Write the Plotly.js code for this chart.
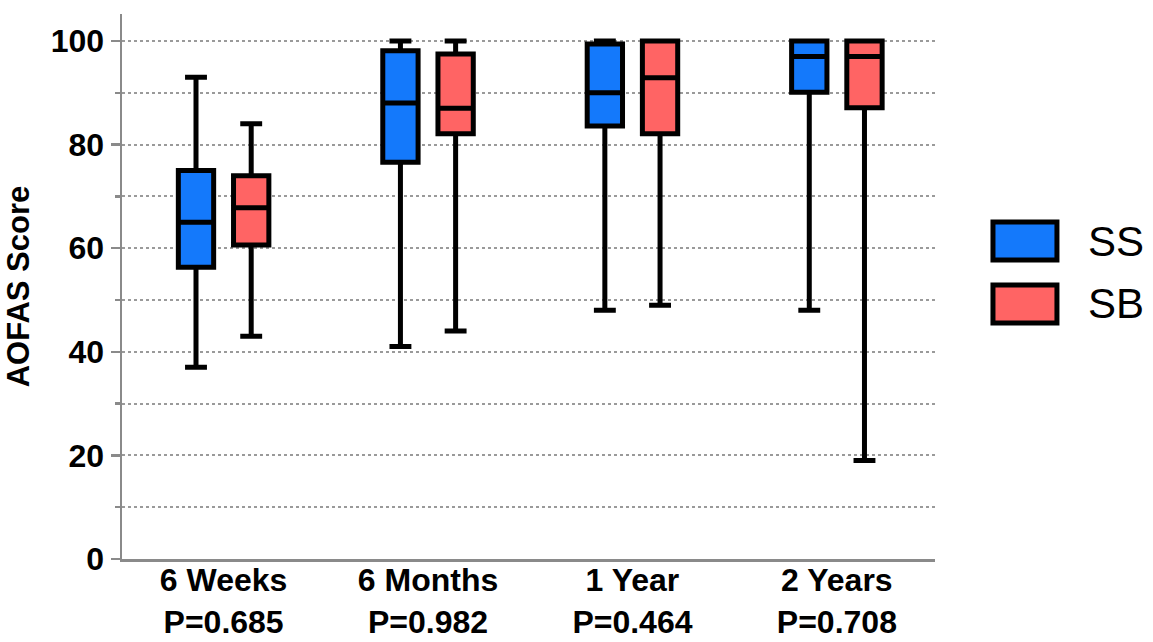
<!DOCTYPE html>
<html>
<head>
<meta charset="utf-8">
<script src="https://cdn.plot.ly/plotly-3.0.1.min.js"></script>
<style>html,body{margin:0;padding:0;background:#fff;}#chart{width:1153px;height:642px;}</style>
</head>
<body>
<div id="chart"></div>
<script>
// ---- data ----
const categories = ["6 Weeks", "6 Months", "1 Year", "2 Years"];
const pValues = ["P=0.685", "P=0.982", "P=0.464", "P=0.708"];
const seriesNames = ["SS", "SB"];
const seriesColors = ["#1479FB", "#FF6464"];

const ssLower = [37, 41, 48, 48];
const ssQ1 = [56.3, 76.6, 83.6, 90.1];
const ssMedian = [65, 88, 90, 97];
const ssQ3 = [75, 98.1, 99.4, 100];
const ssUpper = [93, 100, 100, 100];

const sbLower = [43, 44, 49, 19];
const sbQ1 = [60.6, 82.1, 82.1, 87.1];
const sbMedian = [67.8, 87, 92.9, 97];
const sbQ3 = [74, 97.5, 100, 100];
const sbUpper = [84, 100, 100, 100];

const yTickVals = [0, 20, 40, 60, 80, 100];
const yTitle = "AOFAS Score";

const FONT = "Liberation Sans, Arial, sans-serif";

function boxTrace(name, color, lo, q1, med, q3, up) {
  return {
    type: "box", name: name, x: categories,
    lowerfence: lo, q1: q1, median: med, q3: q3, upperfence: up,
    fillcolor: color,
    line: {color: "#000", width: 5},
    whiskerwidth: 0.62,
    boxpoints: false,
    hoverinfo: "skip",
    showlegend: false
  };
}

const data = [
  boxTrace(seriesNames[0], seriesColors[0], ssLower, ssQ1, ssMedian, ssQ3, ssUpper),
  boxTrace(seriesNames[1], seriesColors[1], sbLower, sbQ1, sbMedian, sbQ3, sbUpper)
];

// manual legend (large swatches like the reference)
const legendY = [[0.5486, 0.6183], [0.433, 0.5028]];
const shapes = [];
const annotations = [];
seriesNames.forEach((n, i) => {
  shapes.push({type: "rect", xref: "paper", yref: "paper",
    x0: 1.0713, x1: 1.150, y0: legendY[i][0], y1: legendY[i][1],
    fillcolor: seriesColors[i], line: {color: "#000", width: 5}});
  annotations.push({xref: "paper", yref: "paper", x: 1.186,
    y: (legendY[i][0] + legendY[i][1]) / 2, xanchor: "left", yanchor: "middle",
    text: n, showarrow: false, font: {family: FONT, size: 42, color: "#000"}});
});

const layout = {
  width: 1153, height: 642,
  margin: {l: 122, r: 218, t: 14, b: 83},
  paper_bgcolor: "#fff", plot_bgcolor: "#fff",
  boxmode: "group", boxgap: 0.46, boxgroupgap: 0.36,
  showlegend: false,
  xaxis: {
    type: "category",
    range: [-0.497, 3.48],
    tickvals: categories,
    ticktext: categories.map((c, i) => c + "<br>" + pValues[i]),
    ticks: "", showgrid: false, zeroline: false,
    showline: true, linecolor: "#8a8a8a", linewidth: 2.5,
    tickfont: {family: FONT, size: 32, color: "#000", weight: "bold"},
    ticklabelstandoff: -9
  },
  yaxis: {
    range: [0, 105.2],
    tickvals: yTickVals,
    ticks: "outside", ticklen: 9, tickwidth: 2.5, tickcolor: "#8a8a8a",
    showline: true, linecolor: "#8a8a8a", linewidth: 2.5,
    zeroline: false,
    showgrid: true, gridcolor: "#9a9a9a", gridwidth: 2, griddash: "dot",
    minor: {dtick: 10, tick0: 0, ticks: "outside", ticklen: 5, tickwidth: 2.5, tickcolor: "#8a8a8a",
            showgrid: true, gridcolor: "#9a9a9a", gridwidth: 2, griddash: "dot"},
    tickfont: {family: FONT, size: 32, color: "#000", weight: "bold"},
    title: {text: yTitle, font: {family: FONT, size: 31, color: "#000", weight: "bold"}, standoff: 12}
  },
  shapes: shapes,
  annotations: annotations
};

Plotly.newPlot("chart", data, layout, {displayModeBar: false, staticPlot: true});
</script>
</body>
</html>
